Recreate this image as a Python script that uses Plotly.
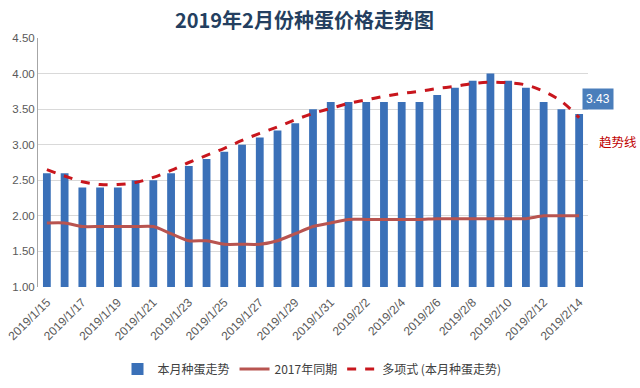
import plotly.graph_objects as go

dates = ["2019/1/15", "2019/1/16", "2019/1/17", "2019/1/18", "2019/1/19", "2019/1/20",
         "2019/1/21", "2019/1/22", "2019/1/23", "2019/1/24", "2019/1/25", "2019/1/26",
         "2019/1/27", "2019/1/28", "2019/1/29", "2019/1/30", "2019/1/31", "2019/2/1",
         "2019/2/2", "2019/2/3", "2019/2/4", "2019/2/5", "2019/2/6", "2019/2/7",
         "2019/2/8", "2019/2/9", "2019/2/10", "2019/2/11", "2019/2/12", "2019/2/13",
         "2019/2/14"]

price_2019 = [2.60, 2.60, 2.40, 2.40, 2.40, 2.50, 2.50, 2.60, 2.70, 2.80, 2.90, 3.00,
              3.10, 3.20, 3.30, 3.50, 3.60, 3.60, 3.60, 3.60, 3.60, 3.60, 3.70, 3.80,
              3.90, 4.00, 3.90, 3.80, 3.60, 3.50, 3.43]

price_2017 = [1.90, 1.90, 1.85, 1.85, 1.85, 1.85, 1.85, 1.75, 1.65, 1.65, 1.60, 1.60,
              1.60, 1.65, 1.75, 1.85, 1.90, 1.95, 1.95, 1.95, 1.95, 1.95, 1.96, 1.96,
              1.96, 1.96, 1.96, 1.96, 2.00, 2.00, 2.00]

trend = [2.65, 2.56, 2.48, 2.44, 2.44, 2.47, 2.54, 2.64, 2.75, 2.85, 2.95, 3.06,
         3.16, 3.25, 3.35, 3.44, 3.51, 3.58, 3.63, 3.68, 3.72, 3.75, 3.79, 3.82,
         3.86, 3.88, 3.87, 3.84, 3.75, 3.61, 3.38]

tick_labels = dates[::2]

title_text = "2019年2月份种蛋价格走势图"
last_label = "3.43"
trend_note = "趋势线"

cjk = "Noto Sans CJK SC, Noto Sans, sans-serif"
num_font = "Liberation Sans Narrow, Liberation Sans, Arial, sans-serif"

fig = go.Figure()
fig.add_trace(go.Bar(
    x=dates, y=price_2019, name="本月种蛋走势",
    marker=dict(color="#3a70b8", line=dict(width=0)),
    width=0.44,
))
fig.add_trace(go.Scatter(
    x=dates, y=price_2017, name="2017年同期", mode="lines",
    line=dict(color="#b85450", width=3, shape="spline", smoothing=0.6),
))
fig.add_trace(go.Scatter(
    x=dates, y=trend, name="多项式 (本月种蛋走势)", mode="lines",
    line=dict(color="#c8161d", width=3, dash="dash", shape="spline"),
))

fig.add_annotation(
    x=(598 - 38) / 550, y=3.64, xref="paper", yref="y", xanchor="center",
    text=last_label, showarrow=False,
    bgcolor="#4a7ebb", font=dict(color="white", size=12, family=num_font),
    borderpad=3,
)
fig.add_annotation(
    x=(639 - 38) / 550, y=3.05, xref="paper", yref="y", xanchor="right",
    text=trend_note, showarrow=False,
    font=dict(color="#c00000", size=12.5, family=cjk),
)

fig.update_layout(
    width=640, height=388,
    margin=dict(l=38, r=52, t=38, b=101, autoexpand=False),
    paper_bgcolor="white", plot_bgcolor="white",
    title=dict(text="<b>" + title_text + "</b>", x=(310 - 0) / 640, xanchor="center",
               xref="paper", y=1 - 21 / 388, yanchor="middle",
               font=dict(family=cjk, size=20, color="#243f60")),
    showlegend=True,
    legend=dict(orientation="h", x=(312 - 38) / 550, xanchor="center",
                y=(287 - 369) / 249, yanchor="middle",
                font=dict(family=cjk, size=12, color="#404040"),
                itemwidth=30, tracegroupgap=0),
    bargap=0.5,
)
fig.update_xaxes(
    type="category", tickmode="array", tickvals=tick_labels, ticktext=tick_labels,
    tickangle=-45, tickfont=dict(family=num_font, size=12, color="#595959"),
    ticklabelstandoff=5,
    showgrid=False, showline=False, ticks="", automargin=False,
)
fig.update_yaxes(
    range=[1, 4.5], dtick=0.5, tickformat=".2f",
    tickfont=dict(family=num_font, size=11.5, color="#595959"),
    showgrid=True, gridcolor="#d9d9d9", gridwidth=1,
    showline=True, linecolor="#a6a6a6", linewidth=1,
    zeroline=False, ticks="", automargin=False,
)

fig.write_html("out.html", config={"displayModeBar": False},
               post_script="document.body.style.margin='0';document.body.style.overflow='hidden';")
